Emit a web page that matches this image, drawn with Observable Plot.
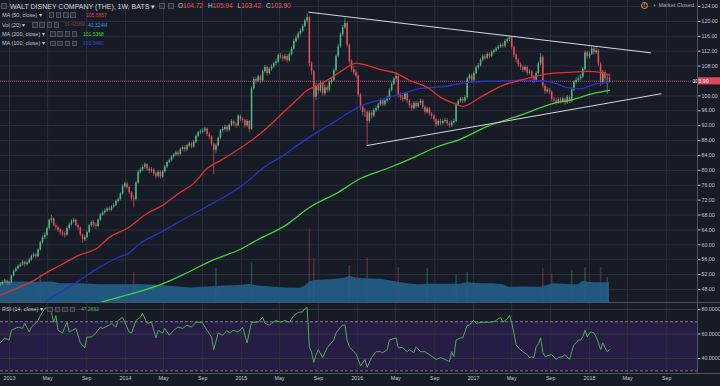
<!DOCTYPE html>
<html>
<head>
<meta charset="utf-8">
<script src="https://cdn.jsdelivr.net/npm/d3@7"></script>
<script src="https://cdn.jsdelivr.net/npm/@observablehq/plot@0.6"></script>
<style>
html,body{margin:0;padding:0;background:#171b26;}
#wrap{position:relative;width:720px;height:386px;overflow:hidden;background:#171b26;font-family:'Liberation Sans',Arial,sans-serif;}
.pane{position:absolute;left:0;width:720px;}
.pane svg{position:absolute;left:0;top:0;}
.lg{position:absolute;white-space:nowrap;line-height:1;color:#c3c6ce;z-index:5;}
.bx{position:absolute;box-sizing:border-box;border:1px solid #4e525e;background:#2a2e39;z-index:5;}
.sep{position:absolute;background:#4f535e;z-index:4;}
</style>
</head>
<body>
<div id="wrap">
  <div id="main" class="pane" style="top:0;height:302px"></div>
  <div id="rsi" class="pane" style="top:302px;height:84px"></div>
</div>
<script>
// ---------------- DATA ----------------
const firstWeek = "2012-12-03";          // weekly candles, one per Monday
const firstOpen = 49.2;
const close2012 = [49.4,49.9,50.3,49.6,49.8];
const close2013 = [51.6,52.9,53.6,54.2,54.6,55.3,54.7,55.1,55.9,56.9,57.3,56.8,58.6,60.6,61.9,62.6,64.4,66.5,67.0,65.1,64.6,64.0,63.2,62.9,62.6,64.4,65.3,66.2,66.6,65.1,64.5,62.6,61.3,61.9,63.3,65.1,66.0,65.3,64.9,66.6,68.0,68.6,69.1,69.6,69.3,70.1,70.6,71.6,72.1,73.6,75.6,76.3];
const close2014 = [75.4,74.0,72.4,72.1,76.6,79.5,80.1,80.8,81.5,80.4,79.8,80.1,79.0,78.4,79.4,78.2,79.6,80.9,82.1,82.6,83.6,84.1,84.7,84.2,85.6,86.1,85.5,86.6,87.1,86.3,87.6,89.1,90.1,90.3,90.6,91.1,89.6,89.0,87.0,85.4,86.6,88.6,90.6,91.0,91.6,90.8,92.1,93.1,92.4,92.0,94.5,93.6];
const close2015 = [93.4,92.0,93.1,91.0,101.9,104.4,103.9,105.1,104.0,106.5,107.6,106.0,107.1,107.8,108.6,109.1,110.8,110.4,109.9,110.6,109.4,111.1,112.6,114.6,115.5,116.6,117.4,118.6,120.1,121.0,108.6,106.5,99.6,102.5,101.3,103.4,100.6,102.2,101.5,103.6,104.2,106.8,110.6,113.2,116.4,118.3,119.4,113.6,109.2,107.1,106.2,105.3];
const close2016 = [100.2,96.9,95.5,95.6,93.2,95.4,94.6,96.1,96.6,97.6,98.7,97.6,98.6,99.2,101.4,103.1,104.5,105.2,100.1,99.4,99.0,100.5,98.6,97.4,96.6,98.0,97.1,97.9,98.6,96.9,95.6,96.5,95.1,94.5,93.6,92.2,93.1,92.6,93.1,93.4,92.5,92.0,92.8,93.1,97.6,98.5,99.1,98.6,99.5,104.5,105.4,104.2];
const close2017 = [106.0,107.5,108.1,109.6,110.5,110.1,111.1,110.6,111.6,112.1,112.6,113.1,113.6,113.3,114.6,115.1,115.6,113.0,110.9,109.6,108.4,107.6,106.9,107.6,106.1,106.4,105.1,104.1,106.0,108.6,110.4,102.6,101.1,101.6,101.0,99.1,98.6,98.1,99.0,98.5,99.1,98.1,99.6,98.6,101.6,103.6,104.1,104.6,105.1,107.1,111.6,110.5];
const close2018 = [111.2,112.6,111.6,112.1,108.5,103.6,106.3,104.6,104.72,103.90];

const high2012 = [49.9,50.3,50.7,50.5,50.2];
const high2013 = [51.9,53.2,54.0,54.6,55.1,55.8,55.6,55.5,56.3,57.3,57.8,57.7,58.9,61.0,62.4,63.2,64.8,66.9,67.9,67.2,65.6,65.0,64.4,63.8,63.5,64.8,65.8,66.7,67.1,66.9,65.6,64.8,62.9,62.5,63.7,65.5,66.4,66.5,65.8,67.0,68.4,69.1,69.6,70.1,70.2,70.5,71.1,72.0,72.6,74.0,76.1,76.8];
const high2014 = [76.8,75.8,74.3,73.2,77.0,80.0,80.6,81.4,82.0,81.8,80.9,80.7,80.5,79.6,79.9,79.8,80.0,81.3,82.5,83.1,84.0,84.6,85.2,85.2,86.0,86.6,86.6,87.0,87.6,87.5,88.0,89.5,90.5,90.9,91.2,91.6,91.4,90.2,89.3,87.3,87.1,89.0,91.0,91.6,92.1,92.0,92.5,93.6,93.5,92.9,95.0,94.9];
const high2015 = [94.2,93.8,93.6,93.4,102.4,104.9,105.0,105.6,105.5,107.0,108.1,108.0,107.6,108.3,109.1,109.7,111.3,111.4,110.9,111.1,111.0,111.6,113.1,115.1,116.1,117.1,118.0,119.1,120.6,122.0,121.4,109.2,106.9,103.4,103.3,104.0,103.8,102.8,102.9,104.1,104.9,107.3,111.1,113.8,116.9,118.9,120.8,119.8,114.0,109.8,108.0,106.9];
const high2016 = [105.6,100.6,97.5,96.6,96.0,95.9,96.0,96.6,97.2,98.1,99.2,99.0,99.1,99.8,101.9,103.6,105.0,106.3,105.6,100.8,100.1,101.0,100.9,99.0,97.9,98.5,98.5,98.4,99.1,99.0,97.3,97.0,96.9,95.6,95.0,94.0,93.6,93.7,93.6,94.0,93.9,93.0,93.3,93.8,98.1,99.0,99.6,99.6,100.0,105.0,105.9,105.8];
const high2017 = [106.5,108.0,108.7,110.1,111.0,111.1,111.6,111.6,112.1,112.6,113.1,113.6,114.1,114.2,115.1,115.6,116.1,116.0,113.4,111.4,110.0,108.9,108.1,108.1,108.0,107.0,106.8,105.5,106.5,109.1,111.4,110.8,103.0,102.2,102.0,101.4,99.7,99.2,99.5,99.6,99.7,99.5,100.1,100.0,102.1,104.1,104.8,105.3,105.8,107.6,112.1,112.0];
const high2018 = [111.8,113.2,113.2,113.0,112.5,109.0,106.8,106.8,105.4,105.94];

const low2012 = [48.8,49.1,49.6,49.2,49.1];
const low2013 = [49.7,51.3,52.6,53.2,53.8,54.2,54.0,54.3,54.8,55.6,56.5,56.2,56.6,58.3,60.1,61.4,62.2,64.0,65.8,64.8,63.9,63.3,62.5,62.2,61.8,62.3,64.0,65.0,65.7,64.8,63.9,62.2,60.4,60.9,61.6,63.0,64.7,64.6,64.1,64.6,66.3,67.6,68.2,68.7,68.8,68.9,69.7,70.3,71.2,71.8,73.3,75.2];
const low2014 = [74.9,73.5,71.8,69.9,71.8,76.2,79.0,79.6,80.3,79.8,79.1,79.3,78.4,77.7,78.0,77.6,77.9,79.2,80.5,81.7,82.2,83.1,83.7,83.6,83.9,85.2,84.9,85.1,86.1,85.7,85.9,87.2,88.7,89.6,89.8,90.1,89.1,88.3,86.4,78.9,84.6,86.2,88.2,90.1,90.5,90.2,90.4,91.7,91.8,91.3,91.7,93.0];
const low2015 = [92.7,91.3,91.6,90.2,90.7,101.5,103.2,103.5,103.3,103.6,106.1,105.3,105.6,106.6,107.3,108.1,108.7,109.8,109.2,109.4,108.8,109.0,110.7,112.2,114.1,115.0,116.1,117.0,118.2,119.6,107.8,105.6,90.7,98.8,100.4,100.8,99.9,100.0,100.8,101.0,103.0,103.8,106.4,110.2,112.8,115.9,117.8,112.9,108.5,106.3,105.4,104.6];
const low2016 = [99.6,96.1,94.6,94.2,86.3,92.5,93.8,94.1,95.6,96.1,97.1,97.0,97.1,98.1,98.8,101.0,102.7,104.0,99.5,98.8,98.3,98.6,97.9,96.7,95.9,96.2,96.5,96.7,97.4,96.3,94.9,95.1,94.5,93.8,92.9,91.5,91.8,91.9,92.1,92.6,91.9,91.3,91.5,92.2,92.7,97.1,98.0,97.9,98.1,99.1,104.0,103.6];
const low2017 = [103.8,105.6,107.0,107.7,109.1,109.5,109.7,110.0,110.2,111.2,111.7,112.2,112.7,112.7,112.9,114.1,114.6,112.3,110.2,108.9,107.7,106.9,106.2,106.4,105.4,105.6,104.4,103.4,103.7,105.6,108.1,101.9,100.4,100.6,100.3,98.4,97.9,97.4,97.7,97.8,98.0,97.5,97.7,97.9,98.2,101.2,103.0,103.5,104.0,104.6,106.7,109.8];
const low2018 = [109.9,110.8,111.0,111.1,107.9,102.5,103.0,103.9,100.4,103.42];

// moving averages (week index from firstWeek, value)
const ma50Weeks  = [0,8,15,21,27,35,44,49,57,66,73,81,87,93,99,108,117,126,134,138,142,147,152,156,160,165,172,178,184,192,198,204,208,210,215,220,226,234,241,249,256,264,270,274];
const ma50Values = [46.5,48.5,50.4,52.6,54.5,57.1,59.3,62.0,64.4,68.4,70.6,74.1,76.5,80.5,82.6,86.0,89.9,94.8,99.3,101.5,102.6,104.2,106.1,107.7,108.8,108.2,106.9,106.1,104.2,102.3,99.6,98.0,97.2,97.5,99.3,101.0,102.8,104.2,105.3,106.1,106.3,106.6,106.3,105.6];
const ma100Weeks  = [0,9,18,21,30,35,42,53,57,63,72,84,93,102,108,121,126,134,143,150,157,163,170,175,183,189,198,211,225,240,249,255,261,267,274];
const ma100Values = [39.5,41.8,43.5,45.0,48.3,50.2,53.0,56.6,57.5,60.4,63.3,67.4,70.3,73.3,75.6,81.8,83.5,86.9,90.4,92.9,95.6,97.5,98.8,99.6,101.0,102.0,102.4,103.6,104.0,104.2,103.5,102.2,101.9,103.1,103.6];
const ma200Weeks  = [27,45,60,72,84,96,108,114,129,139,152,162,174,186,196,207,219,234,249,256,267,274];
const ma200Values = [41.0,44.5,47.0,49.3,52.5,56.0,58.8,60.8,65.5,70.0,74.1,77.8,80.5,83.5,86.2,88.4,91.8,94.8,98.0,98.8,100.7,101.5];

// volume (millions): 20-week average area and the bars that rise above it
const volWeeks  = [0,8,16,24,27,36,45,54,63,72,80,86,90,96,100,108,112,116,122,128,135,137,139,141,146,150,155,157,160,164,171,177,183,188,192,200,207,210,216,222,226,229,236,243,249,255,260,262,267,274];
const volValues = [41.0,41.8,41.2,41.6,38.5,38.0,36.3,36.0,36.5,34.5,31.5,29.5,31.0,32.0,33.5,34.8,36.7,33.5,31.5,29.5,29.2,33.0,41.4,44.9,46.0,47.0,49.6,53.7,50.0,48.4,47.5,42.9,38.0,36.1,37.3,37.0,37.3,40.2,38.5,38.2,36.0,31.2,31.5,31.2,38.2,36.7,36.3,42.9,40.2,40.3];
const volBarWeeks  = [18,60,97,113,139,141,157,165,179,192,205,210,244,248,257,263,270,273];
const volBarValues = [55,61,69,80,150,90,75,92,71,69,55,61,69,59,65,71,71,51];

// RSI (14)
const rsiWeeks = [0,2,4,5,8,10,11,13,14,17, 18,20,22,23,24,25,26,28,29,30, 31,34,36,38,39,41,43,45,46,49,
  50,52,53,55,56,58,59,61,63,64, 66,68,70,71,73,74,76,78,80,82, 84,86,88,90,91,93,95,96,98,100,
  102,103,105,107,109,111,113,116,118,119, 121,122,124,126,128,130,132,134,136,137, 138,139,140,141,142,143,145,147,150,151,
  153,154,155,156,157,158,159,160,161,162, 164,165,167,169,171,172,174,175,178,179, 181,183,184,186,187,189,191,193,196,198,
  200,202,203,204,205,207,208,210,211,212, 213,214,217,219,221,223,225,226,228,229, 230,231,232,233,235,237,238,239,240,241,
  242,243,244,245,248,250,251,253,254,256, 257,258,259,260,261,262,263,264,265,266, 267,268,269,270,271,272,273,274];
const rsiValues = [52.8,56.8,55,63,65.6,64.6,68.8,61.6,65.6,71, 75,80.9,81.6,77.6,69.6,75,63,60.8,65.6,69.6, 61.6,64.6,52.8,48.8,57.6,57.6,60.8,65.6,64.6,67.2,
  68.8,65.6,71,73.6,69.6,61.6,60.8,71,73.6,76.8, 68.8,69.6,56.8,63,60.8,64.6,59,63,65.6,64.6, 67.2,65.6,69.6,69.6,68.8,63,57.6,47.2,60.8,59,
  63,60.8,63,61.6,65.6,52.8,69.6,69.6,73.6,68.8, 67.2,68.8,71,69.6,71,69.6,75,77.6,78,80.8, 81.6,49.6,45,36.8,43.2,47.2,40.8,48.8,55.2,60.8,
  65.6,67.2,67.5,55,49.6,47.5,45.6,44,39.2,34, 39.2,32.8,40.8,45.6,45.6,44.8,47.2,55.2,56.8,48.8, 48.8,45.6,47.2,44.8,49.6,45.6,45.6,43.2,39.2,40.8,
  39.2,37.6,45.6,41.6,55.2,56.8,56.8,67.2,67.2,69.6, 71,68.8,69.6,69.6,69.6,71,73.6,69.6,72.4,75, 69.6,60.8,51.2,48.8,45.6,43.2,40.8,41.5,40.8,49.6,
  52,56.8,45,41.6,43.2,39.2,40.8,41.6,43.2,39.2, 45.6,51.2,52.8,55.2,55,58,63,57.6,60.8,61.6, 60.8,57.6,53,47.2,52.8,48.8,45.6,47.27];

// drawn trend lines
const trendUpperDates = ["2015-08-01","2018-07-12"];
const trendUpperPrices = [122.47,111.57];
const trendLowerDates = ["2016-02-01","2018-08-14"];
const trendLowerPrices = [86.67,100.56];

// axes
const priceTicks = [48,52,56,60,64,68,72,76,80,84,88,92,96,100,108,112,116,120,124];
const priceGrid  = [48,52,56,60,64,68,72,76,80,84,88,92,96,100,104,108,112,116,120,124];
const rsiTicks = [40,60,80];
const rsiLevels = [30,70];
const tickDateStrings = ["2013-01-01","2013-05-01","2013-09-01","2014-01-01","2014-05-01","2014-09-01","2015-01-01","2015-05-01","2015-09-01","2016-01-01","2016-05-01","2016-09-01","2017-01-01","2017-05-01","2017-09-01","2018-01-01","2018-05-01","2018-09-01"];
const tickLabels = ["2013","May","Sep","2014","May","Sep","2015","May","Sep","2016","May","Sep","2017","May","Sep","2018","May","Sep"];

// ---------------- BUILD ----------------
const FONT = "'Liberation Sans', Arial, sans-serif";
const GRID = "#2a2f3c", TXT = "#c3c6ce";
const UP = "#53b987", DOWN = "#eb4d5c";
const DAY = 864e5;
const t0 = new Date(firstWeek + "T00:00:00Z").getTime();
const weekDate = i => new Date(t0 + i * 7 * DAY);

const closes = [].concat(close2012, close2013, close2014, close2015, close2016, close2017, close2018);
const highs = [].concat(high2012, high2013, high2014, high2015, high2016, high2017, high2018);
const lows = [].concat(low2012, low2013, low2014, low2015, low2016, low2017, low2018);
const candles = closes.map((c, i) => ({date: weekDate(i), open: i ? closes[i - 1] : firstOpen, close: c, high: highs[i], low: lows[i]}));
const lastClose = closes[closes.length - 1];
const series = (weeks, vals) => weeks.map((w, i) => ({date: weekDate(w), value: vals[i]}));
const ma50 = series(ma50Weeks, ma50Values);
const ma100 = series(ma100Weeks, ma100Values);
const ma200 = series(ma200Weeks, ma200Values);
const volMA = series(volWeeks, volValues);
const volBars = volBarWeeks.map((w, i) => ({date: weekDate(w), value: volBarValues[i], up: candles[w].close >= candles[w].open}));
const rsi = series(rsiWeeks, rsiValues);
const trend = (ds, ps) => ds.map((d, i) => ({date: new Date(d + "T00:00:00Z"), value: ps[i]}));
const trendUpper = trend(trendUpperDates, trendUpperPrices);
const trendLower = trend(trendLowerDates, trendLowerPrices);
const tickDates = tickDateStrings.map(s => new Date(s + "T00:00:00Z"));
const labelByTime = new Map(tickDates.map((d, i) => [+d, tickLabels[i]]));

// time scale: 2013-01-01 at 9px, 2018-01-01 at 589px, chart area ends at 697px
const pxPerDay = 580 / 1826;
const xDomain = [new Date(Date.UTC(2013, 0, 1) - 9 / pxPerDay * DAY), new Date(Date.UTC(2018, 0, 1) + 108 / pxPerDay * DAY)];
const priceDomain = [44.51, 125.61];
const common = {width: 720, height: 302, marginLeft: 0, marginRight: 23, marginTop: 0, marginBottom: 0};

const A = Plot.plot({...common,
  x: {type: "utc", domain: xDomain, axis: null},
  y: {domain: priceDomain},
  style: {background: "transparent", color: TXT, fontSize: "5.3px", fontFamily: FONT},
  marks: [
    Plot.gridX(tickDates, {stroke: GRID, strokeOpacity: 1}),
    Plot.gridY(priceGrid, {stroke: GRID, strokeOpacity: 1}),
    Plot.axisY(priceTicks, {anchor: "right", tickSize: 2.5, tickPadding: 1.5, tickFormat: d => d.toFixed(2), label: null})
  ]
});

const B = Plot.plot({...common,
  x: {type: "utc", domain: xDomain, axis: null},
  y: {domain: [0, 616], axis: null},
  style: {background: "transparent"},
  marks: [
    Plot.ruleX(volBars, {x: "date", y: "value", stroke: d => d.up ? UP : DOWN, strokeOpacity: 0.3, strokeWidth: 1.6}),
    Plot.areaY(volMA, {x: "date", y: "value", fill: "#235d88", fillOpacity: 0.92})
  ]
});

const candleColor = d => d.close >= d.open ? UP : DOWN;
const C = Plot.plot({...common,
  x: {type: "utc", domain: xDomain, axis: null},
  y: {domain: priceDomain, axis: null},
  style: {background: "transparent"},
  marks: [
    Plot.ruleY([lastClose], {stroke: "#e0505f", strokeOpacity: 0.85, strokeWidth: 0.8, strokeDasharray: "1,1"}),
    Plot.ruleX(candles, {x: "date", y1: "low", y2: "high", stroke: candleColor, strokeWidth: 0.7}),
    Plot.ruleX(candles, {x: "date", y1: "open", y2: "close", stroke: candleColor, strokeWidth: 1.5}),
    Plot.line(ma200, {x: "date", y: "value", stroke: "#41d43a", strokeWidth: 1.3, curve: "monotone-x", clip: true}),
    Plot.line(ma100, {x: "date", y: "value", stroke: "#2633c9", strokeWidth: 1.3, curve: "monotone-x", clip: true}),
    Plot.line(ma50, {x: "date", y: "value", stroke: "#e0302f", strokeWidth: 1.3, curve: "monotone-x", clip: true}),
    Plot.line(trendUpper, {x: "date", y: "value", stroke: "#d5d8df", strokeWidth: 1}),
    Plot.line(trendLower, {x: "date", y: "value", stroke: "#d5d8df", strokeWidth: 1})
  ]
});
// last price tag on the axis
const yy = C.scale("y").apply(lastClose);
const sc = d3.select(C);
sc.append("rect").attr("x", 697.5).attr("y", yy - 3.6).attr("width", 22.5).attr("height", 7.2).attr("fill", "#e0455a");
sc.append("text").attr("x", 700.5).attr("y", yy).attr("dy", "0.35em").attr("fill", "#ffffff")
  .attr("font-size", "5.3px").attr("font-family", FONT).text(lastClose.toFixed(2));

const D = Plot.plot({width: 720, height: 84, marginLeft: 0, marginRight: 23, marginTop: 0, marginBottom: 13,
  x: {type: "utc", domain: xDomain},
  y: {domain: [27.8, 85.7]},
  style: {background: "transparent", color: TXT, fontSize: "5.3px", fontFamily: FONT},
  marks: [
    Plot.rect([{from: xDomain[0], to: xDomain[1], lo: rsiLevels[0], hi: rsiLevels[1]}], {x1: "from", x2: "to", y1: "lo", y2: "hi", fill: "#261c44"}),
    Plot.gridX(tickDates, {stroke: GRID, strokeOpacity: 1}),
    Plot.gridY(rsiTicks, {stroke: "#343846", strokeOpacity: 1}),
    Plot.ruleY(rsiLevels, {stroke: "#8d909a", strokeWidth: 0.8, strokeDasharray: "3,2"}),
    Plot.line(rsi, {x: "date", y: "value", stroke: "#4caf50", strokeWidth: 1}),
    Plot.axisY(rsiTicks, {anchor: "right", tickSize: 2.5, tickPadding: 1.5, tickFormat: d => d.toFixed(4), label: null}),
    Plot.axisX(tickDates, {anchor: "bottom", tickSize: 0, tickPadding: 3, tickFormat: d => labelByTime.get(+d), label: null})
  ]
});

const main = document.getElementById("main");
main.append(A, B, C);
document.getElementById("rsi").append(D);

// ---------------- OVERLAY TEXT ----------------
const wrap = document.getElementById("wrap");
function txt(x, top, html, size, color) {
  const e = document.createElement("div");
  e.className = "lg";
  e.style.left = x + "px"; e.style.top = top + "px"; e.style.fontSize = size + "px";
  if (color) e.style.color = color;
  e.innerHTML = html;
  wrap.append(e);
  return e;
}
function boxes(x0, top, n, step, s) {
  s = s || 5.5;
  for (let k = 0; k < n; k++) {
    const b = document.createElement("div");
    b.className = "bx";
    b.style.left = (x0 + k * step) + "px"; b.style.top = top + "px";
    b.style.width = s + "px"; b.style.height = s + "px";
    wrap.append(b);
  }
}
function sep(x, y, w, h) {
  const e = document.createElement("div");
  e.className = "sep";
  Object.assign(e.style, {left: x + "px", top: y + "px", width: w + "px", height: h + "px"});
  wrap.append(e);
}
sep(0, 301.5, 720, 1);
sep(696.5, 0, 1, 373);
sep(0, 372.6, 720, 1);

boxes(1, 3.2, 1, 0, 6);
txt(10, 2.6, "WALT DISNEY COMPANY (THE), 1W, BATS ▾", 7, "#d1d4dc");
boxes(159.3, 3.3, 2, 9);
const ohlc = [["O", "104.72"], ["H", "105.94"], ["L", "103.42"], ["C", "103.90"]];
txt(178, 2.9, ohlc.map(([k, v]) => `<span style="color:#c3c6ce">${k}</span><span style="color:#eb4d5c;margin-right:5px">${v}</span>`).join(""), 6.5);

txt(2, 12.6, "MA (50, close) ▾", 5.5);
boxes(48.5, 12.4, 4, 7.3);
txt(86, 12.8, "105.5957", 5, "#e0403f");
txt(2, 22.6, "Vol (20) ▾", 5.5);
boxes(32, 22.4, 4, 7.3);
txt(64.5, 22.8, "19.4258M", 4.6, "#8a3d4a");
txt(88, 22.8, "40.324M", 5, "#3f8fd8");
txt(2, 31.6, "MA (200, close) ▾", 5.5);
boxes(50, 31.4, 4, 7.3);
txt(83, 31.8, "101.5368", 5, "#41d43a");
txt(2, 41, "MA (100, close) ▾", 5.5);
boxes(50, 40.8, 4, 7.3);
txt(83, 41.2, "103.5480", 5, "#3441e0");
txt(2, 306.7, "RSI (14, close) ▾", 5.5);
boxes(47, 306.5, 4, 7.5);
txt(81, 306.9, "47.2652", 5, "#4caf50");

const ic = txt(641, 2, "!", 5, "#f0962e");
Object.assign(ic.style, {width: "7px", height: "7px", boxSizing: "border-box", border: "1px solid #f0962e", borderRadius: "50%", textAlign: "center", lineHeight: "5px", fontWeight: "bold"});
txt(653.5, 2.4, "•", 6, "#9598a1");
txt(658.5, 3, "Market Closed", 5.5, "#a3a6af");
</script>
</body>
</html>
